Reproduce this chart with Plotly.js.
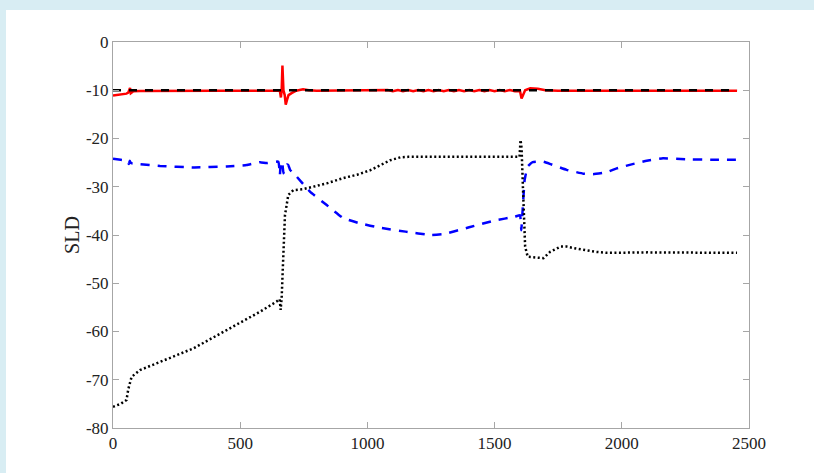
<!DOCTYPE html>
<html>
<head>
<meta charset="utf-8">
<script src="https://cdn.plot.ly/plotly-3.0.1.min.js"></script>
<style>
  html, body { margin: 0; padding: 0; width: 814px; height: 473px; overflow: hidden; background: #d8edf3; }
  #plot { position: absolute; left: 6px; top: 10px; width: 808px; height: 463px; background: #ffffff; }
</style>
</head>
<body>
<div id="plot"></div>
<script>
// Red solid series
const redX = [0, 30, 53, 60, 64, 67, 70, 80, 106, 200, 400, 600, 650, 656, 660, 663, 666, 670, 675, 679, 684, 690, 702, 720, 747, 770, 800, 1000, 1060,
  1080, 1100, 1120, 1140, 1160, 1180, 1200, 1220, 1240, 1260, 1280, 1300, 1320, 1340, 1360, 1380, 1400, 1420, 1440, 1460, 1480, 1500, 1520, 1540, 1560, 1580,
  1600, 1606, 1612, 1620, 1640, 1670, 1700, 1750, 2000, 2453];
const redY = [-11.1, -10.9, -10.7, -10.5, -9.6, -9.5, -10.6, -10.2, -10.15, -10.1, -10.1, -10.1, -10.1, -10.1, -11.5, -10, -4.9, -10, -11, -13, -12, -11, -10.6, -10.1, -9.8, -10, -10.1, -10.1, -10.1,
  -9.95, -10.2, -9.95, -10.2, -9.95, -10.2, -9.95, -10.2, -9.95, -10.2, -9.95, -10.2, -9.95, -10.2, -9.95, -10.2, -9.95, -10.2, -9.95, -10.2, -9.95, -10.2, -9.95, -10.2, -9.95, -10.2,
  -10.2, -11.7, -11, -10, -9.6, -9.7, -10, -10.1, -10.1, -10.1];

// Black dashed reference
const refX = [0, 2453];
const refY = [-10, -10];

// Blue dashed series
const blueX = [0, 30, 55, 62, 66, 70, 100, 185, 316, 447, 525, 578, 604, 650, 656, 660, 665, 670, 676, 683, 689, 696, 722, 774, 840, 905, 971, 1050, 1150, 1250, 1300, 1400, 1500, 1580, 1600, 1605, 1610, 1618, 1630, 1650, 1692, 1720, 1783, 1850, 1887, 1940, 1980, 2050, 2098, 2162, 2250, 2350, 2453];
const blueY = [-24.2, -24.4, -24.6, -25.3, -24.6, -25.1, -25.3, -25.7, -26, -25.8, -25.5, -24.9, -25.1, -24.8, -27.6, -24.8, -25.0, -27.2, -26.2, -25.4, -25.5, -26.5, -27.9, -31.0, -33.8, -36.5, -37.6, -38.5, -39.3, -40, -39.8, -38.4, -37, -36.2, -35.9, -39, -35, -28.6, -25.8, -24.9, -24.8, -25.3, -26.5, -27.3, -27.4, -27, -26.2, -25.2, -24.6, -24.1, -24.3, -24.4, -24.4];

// Black dotted series
const dotX = [0, 30, 53, 60, 73, 106, 185, 316, 447, 578, 643, 655, 659, 663, 667, 676, 689, 709, 748, 787, 840, 905, 960, 1010, 1050, 1090, 1130, 1160, 1300, 1500, 1598, 1602, 1606, 1612, 1620, 1630, 1692, 1718, 1760, 1783, 1820, 1900, 1940, 2100, 2300, 2453];
const dotY = [-75.6, -75.0, -74.2, -72, -69.4, -68.0, -66.3, -63.5, -59.7, -55.9, -53.8, -53.3, -55.5, -53, -47.6, -35.9, -31.7, -30.7, -30.5, -30.0, -29.3, -28.2, -27.5, -26.6, -25.5, -24.5, -23.9, -23.8, -23.8, -23.8, -23.8, -20.3, -22, -31, -42.4, -44.5, -44.8, -43.5, -42.4, -42.4, -42.8, -43.5, -43.7, -43.6, -43.6, -43.7];

const xTicks = [0, 500, 1000, 1500, 2000, 2500];
const yTicks = [0, -10, -20, -30, -40, -50, -60, -70, -80];

const traces = [
  { x: redX, y: redY, mode: 'lines', line: { color: '#ff0000', width: 2.5 }, hoverinfo: 'skip' },
  { x: refX, y: refY, mode: 'lines', line: { color: '#000000', width: 2.5, dash: '8px,8px' }, hoverinfo: 'skip' },
  { x: blueX, y: blueY, mode: 'lines', line: { color: '#0000ff', width: 2.5, dash: '9px,8px', shape: 'spline', smoothing: 0.3 }, hoverinfo: 'skip' },
  { x: dotX, y: dotY, mode: 'lines', line: { color: '#000000', width: 2.5, dash: '2px,2.5px' }, hoverinfo: 'skip' }
];

const axisCommon = {
  showgrid: false, zeroline: false, showline: true, mirror: 'ticks',
  linecolor: '#a6a6a6', linewidth: 1,
  ticks: 'inside', ticklen: 6, tickcolor: '#a6a6a6', tickwidth: 1,
  tickfont: { family: 'Liberation Serif, Times New Roman, serif', size: 17, color: '#222222' }
};

const layout = {
  width: 808, height: 463,
  margin: { l: 107, r: 65, t: 32, b: 45 },
  paper_bgcolor: '#ffffff', plot_bgcolor: '#ffffff',
  showlegend: false,
  xaxis: Object.assign({}, axisCommon, {
    range: [0, 2500], tickmode: 'array', tickvals: xTicks, ticktext: xTicks.map(String)
  }),
  yaxis: Object.assign({}, axisCommon, {
    range: [-80, 0], tickmode: 'array', tickvals: yTicks, ticktext: yTicks.map(String),
    title: { text: 'SLD', font: { family: 'Liberation Serif, Times New Roman, serif', size: 20, color: '#222222' }, standoff: 0 }
  })
};

Plotly.newPlot('plot', traces, layout, { staticPlot: true, displayModeBar: false });
</script>
</body>
</html>
